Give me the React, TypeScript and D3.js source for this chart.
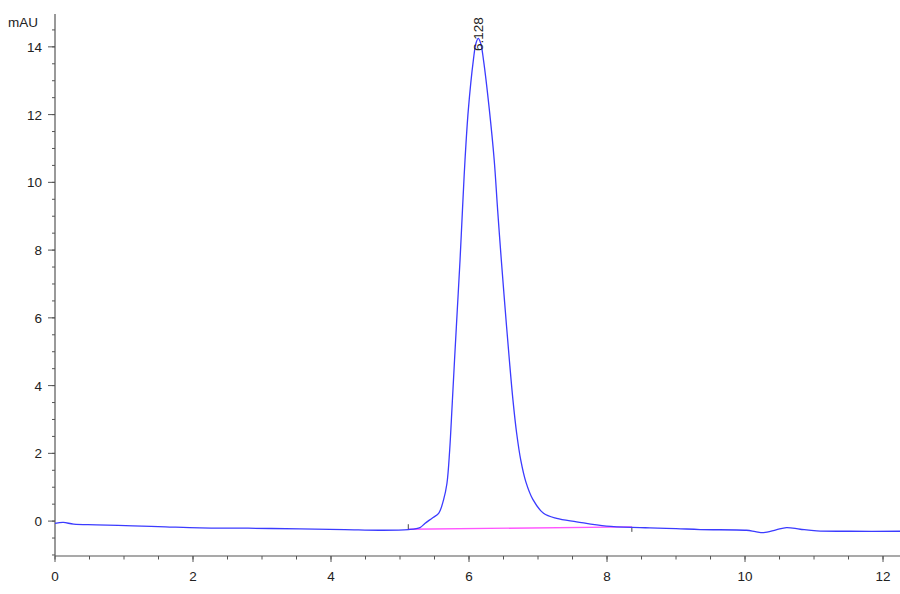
import React, { useEffect, useRef } from 'react';
import * as d3 from 'd3';

// retention time (min) and absorbance (mAU)
const times = [
  0, 0.12, 0.27, 0.6, 1.13, 1.6, 2.1, 2.8, 3.55, 4.2, 4.71, 5.12, 5.29, 5.36, 5.46, 5.56,
  5.63, 5.68, 5.72, 5.755, 5.79, 5.83, 5.87, 5.905, 5.942, 5.99, 6.063, 6.1, 6.134, 6.17, 6.21,
  6.295, 6.365, 6.415, 6.468, 6.525, 6.585, 6.637, 6.69, 6.75, 6.825, 6.925, 7.08, 7.27, 7.56, 7.99,
  8.48, 8.62, 9.0, 9.35, 10.02, 10.15, 10.27, 10.45, 10.6, 10.8, 11.04, 11.52, 12.25,
];
const signal = [
  -0.07, -0.04, -0.09, -0.11, -0.14, -0.17, -0.2, -0.21, -0.23, -0.25, -0.27, -0.25, -0.19, -0.07, 0.08, 0.23,
  0.62, 1.11, 2.1, 3.4, 4.75, 6.23, 7.71, 9.18, 10.66, 12.14, 13.61, 14.1, 14.25, 14.1, 13.61,
  12.14, 10.66, 9.18, 7.71, 6.23, 4.75, 3.57, 2.6, 1.8, 1.15, 0.64, 0.23, 0.08, -0.02, -0.15,
  -0.19, -0.2, -0.22, -0.25, -0.27, -0.31, -0.34, -0.26, -0.19, -0.24, -0.29, -0.3, -0.3,
];

// integration baseline (start, end) and peak label
const baseTimes = [5.12, 8.36];
const baseValues = [-0.24, -0.17];
const peakTime = 6.128;
const peakLabel = '6.128';

const xMajor = [0, 2, 4, 6, 8, 10, 12];
const yMajor = [0, 2, 4, 6, 8, 10, 12, 14];

const W = 900;
const H = 594;
const left = 55;
const right = 900;
const top = 14;
const bottom = 556;

const Chromatogram: React.FC = () => {
  const svgRef = useRef<SVGSVGElement>(null);

  useEffect(() => {
    if (!svgRef.current) return;
    const svg = d3.select(svgRef.current);
    svg.selectAll('*').remove();

    const x = d3.scaleLinear().domain([0, 12.246]).range([left, right]);
    const y = d3.scaleLinear().domain([-1.03, 14.97]).range([bottom, top]);

    const axisColor = '#555';
    const textColor = '#222';
    const font = 'Liberation Sans, Arial, sans-serif';

    // y axis
    const yAxis = svg.append('g');
    yAxis.append('line')
      .attr('x1', left).attr('x2', left).attr('y1', top).attr('y2', bottom)
      .attr('stroke', axisColor).attr('stroke-width', 1.2);
    yAxis.selectAll('line.minor')
      .data(d3.range(-1, 15, 0.5))
      .join('line')
      .attr('class', 'minor')
      .attr('x1', left - 3).attr('x2', left)
      .attr('y1', d => y(d)).attr('y2', d => y(d))
      .attr('stroke', axisColor);
    yAxis.selectAll('line.major')
      .data(yMajor)
      .join('line')
      .attr('class', 'major')
      .attr('x1', left - 7).attr('x2', left)
      .attr('y1', d => y(d)).attr('y2', d => y(d))
      .attr('stroke', axisColor);
    yAxis.selectAll('text')
      .data(yMajor)
      .join('text')
      .attr('x', left - 13)
      .attr('y', d => y(d) + 5)
      .attr('text-anchor', 'end')
      .attr('font-family', font)
      .attr('font-size', 13.5)
      .attr('fill', textColor)
      .text(d => d);
    svg.append('text')
      .attr('x', 8).attr('y', 27)
      .attr('font-family', font)
      .attr('font-size', 13.5)
      .attr('fill', textColor)
      .text('mAU');

    // x axis
    const xAxis = svg.append('g');
    xAxis.append('line')
      .attr('x1', left).attr('x2', right).attr('y1', bottom).attr('y2', bottom)
      .attr('stroke', axisColor).attr('stroke-width', 1.2);
    xAxis.selectAll('line.minor')
      .data(d3.range(0, 12.5, 0.5))
      .join('line')
      .attr('class', 'minor')
      .attr('x1', d => x(d)).attr('x2', d => x(d))
      .attr('y1', bottom).attr('y2', bottom + 3.5)
      .attr('stroke', axisColor);
    xAxis.selectAll('line.major')
      .data(xMajor)
      .join('line')
      .attr('class', 'major')
      .attr('x1', d => x(d)).attr('x2', d => x(d))
      .attr('y1', bottom).attr('y2', bottom + 6)
      .attr('stroke', axisColor);
    xAxis.selectAll('text')
      .data(xMajor)
      .join('text')
      .attr('x', d => x(d))
      .attr('y', 581)
      .attr('text-anchor', 'middle')
      .attr('font-family', font)
      .attr('font-size', 13.5)
      .attr('fill', textColor)
      .text(d => d);

    // integration baseline
    svg.append('line')
      .attr('x1', x(baseTimes[0])).attr('y1', y(baseValues[0]))
      .attr('x2', x(baseTimes[1])).attr('y2', y(baseValues[1]))
      .attr('stroke', '#ff55ff').attr('stroke-width', 1.4);
    svg.append('line')
      .attr('x1', x(baseTimes[0])).attr('x2', x(baseTimes[0]))
      .attr('y1', y(baseValues[0])).attr('y2', y(baseValues[0]) - 5)
      .attr('stroke', '#444');
    svg.append('line')
      .attr('x1', x(baseTimes[1])).attr('x2', x(baseTimes[1]))
      .attr('y1', y(baseValues[1])).attr('y2', y(baseValues[1]) + 5)
      .attr('stroke', '#444');

    // trace
    const pts = times.map((t, i) => [t, signal[i]] as [number, number]);
    const line = d3.line<[number, number]>()
      .x(d => x(d[0]))
      .y(d => y(d[1]))
      .curve(d3.curveCatmullRom.alpha(0.5));
    svg.append('path')
      .attr('d', line(pts))
      .attr('fill', 'none')
      .attr('stroke', '#3b3bff')
      .attr('stroke-width', 1.3);

    // peak label
    svg.append('text')
      .attr('transform', `translate(${x(peakTime) + 5},${51}) rotate(-90)`)
      .attr('font-family', font)
      .attr('font-size', 13.5)
      .attr('fill', textColor)
      .text(peakLabel);
  }, []);

  return <svg ref={svgRef} width={W} height={H} style={{ display: 'block', background: '#fff' }} />;
};

export default function App() {
  return (
    <div style={{ position: 'absolute', left: 0, top: 0 }}>
      <Chromatogram />
    </div>
  );
}
